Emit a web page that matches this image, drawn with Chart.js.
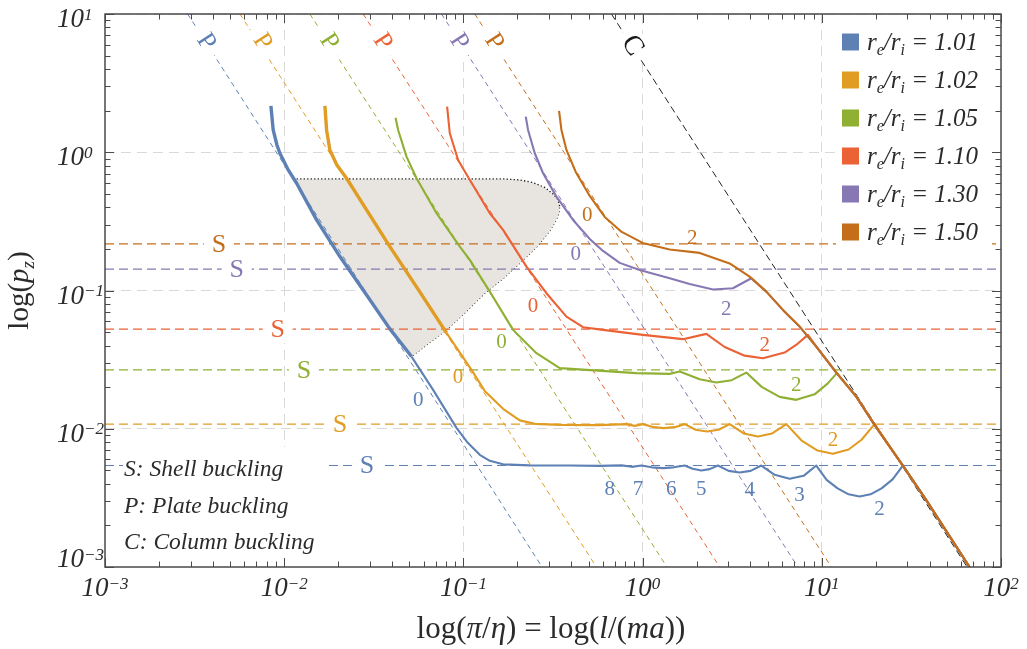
<!DOCTYPE html>
<html>
<head>
<meta charset="utf-8">
<title>Buckling modes map</title>
<script src="https://cdn.jsdelivr.net/npm/chart.js"></script>
<style>
body { margin: 0; background: #ffffff; }
canvas { display: block; }
</style>
</head>
<body>
<canvas id="bucklingChart" width="1027" height="649"></canvas>
<script>
// ---- data (x = pi/eta, y = p_z) ----
const ratioLabels = ['1.01', '1.02', '1.05', '1.10', '1.30', '1.50'];
const seriesColors = ['#5E81B5', '#E19C24', '#8FB032', '#EB6235', '#8778B3', '#C56E1A'];

const curve101 = [
  [8.43e-3, 2.162], [8.68e-3, 1.450], [9.11e-3, 1.129], [9.46e-3, 0.9835], [1.053e-2, 0.7447],
  [1.173e-2, 0.5968], [1.516e-2, 0.3239], [2.045e-2, 0.1759], [2.758e-2, 0.1010], [3.886e-2, 5.276e-2],
  [5.135e-2, 3.327e-2], [6.777e-2, 1.911e-2], [9.15e-2, 1.015e-2], [0.1058, 7.907e-3], [0.1234, 6.476e-3],
  [0.1404, 5.859e-3], [0.1665, 5.528e-3], [0.2346, 5.437e-3], [0.3921, 5.419e-3], [0.5764, 5.391e-3],
  [0.7645, 5.437e-3], [0.8694, 5.303e-3], [0.9847, 5.419e-3], [1.124, 5.259e-3], [1.300, 5.190e-3],
  [1.491, 5.259e-3], [1.717, 5.419e-3], [1.903, 5.130e-3], [2.128, 4.986e-3], [2.367, 5.104e-3],
  [2.633, 5.419e-3], [3.021, 4.961e-3], [3.480, 4.823e-3], [4.007, 4.961e-3], [4.598, 5.419e-3],
  [5.454, 4.640e-3], [6.614, 4.342e-3], [7.915, 4.564e-3], [9.318, 5.419e-3], [10.64, 4.271e-3],
  [12.25, 3.708e-3], [14.11, 3.355e-3], [16.25, 3.234e-3], [18.71, 3.355e-3], [21.55, 3.708e-3],
  [24.83, 4.307e-3], [28.33, 5.419e-3], [38.26, 3.05e-3], [66.73, 1.0e-3]
];
const curve102 = [
  [1.687e-2, 2.162], [1.724e-2, 1.450], [1.798e-2, 1.039], [1.967e-2, 0.8095], [2.228e-2, 0.6487],
  [2.881e-2, 0.3826], [3.886e-2, 0.2077], [5.712e-2, 9.770e-2], [8.049e-2, 4.937e-2], [0.1110, 2.666e-2],
  [0.1315, 1.879e-2], [0.1665, 1.393e-2], [0.2063, 1.150e-2], [0.2502, 1.085e-2], [0.3448, 1.067e-2],
  [0.5764, 1.062e-2], [0.8121, 1.080e-2], [0.9036, 1.049e-2], [1.005, 1.080e-2], [1.153, 1.027e-2],
  [1.311, 1.010e-2], [1.511, 1.027e-2], [1.717, 1.080e-2], [1.977, 9.843e-3], [2.293, 9.544e-3],
  [2.657, 9.843e-3], [3.060, 1.080e-2], [3.663, 9.247e-3], [4.401, 8.782e-3], [5.282, 9.247e-3],
  [6.339, 1.080e-2], [7.714, 8.217e-3], [9.475, 6.958e-3], [11.53, 6.584e-3], [14.11, 7.075e-3],
  [16.67, 8.327e-3], [19.70, 1.080e-2], [28.33, 5.419e-3], [38.26, 3.05e-3], [66.73, 1.0e-3]
];
const curve105 = [
  [4.181e-2, 1.779], [4.323e-2, 1.450], [4.815e-2, 0.9294], [5.476e-2, 0.6487], [7.079e-2, 0.3622],
  [9.548e-2, 0.2077], [0.1086, 0.1665], [0.1404, 9.818e-2], [0.1893, 5.190e-2], [0.2557, 3.521e-2],
  [0.3448, 2.743e-2], [0.4860, 2.666e-2], [0.9235, 2.524e-2], [1.416, 2.494e-2], [1.610, 2.593e-2],
  [2.082, 2.284e-2], [2.579, 2.158e-2], [3.139, 2.246e-2], [3.792, 2.549e-2], [4.616, 2.009e-2],
  [5.815, 1.701e-2], [7.207, 1.618e-2], [9.117, 1.773e-2], [10.77, 2.119e-2], [12.14, 2.524e-2],
  [15.58, 1.709e-2], [19.70, 1.067e-2], [28.33, 5.419e-3], [38.26, 3.05e-3], [66.73, 1.0e-3]
];
const curve110 = [
  [8.111e-2, 2.137], [8.397e-2, 1.372], [9.343e-2, 0.8797], [0.1086, 0.6305], [0.1404, 0.3622],
  [0.1665, 0.2743], [0.2249, 0.1489], [0.2907, 9.560e-2], [0.3758, 6.476e-2], [0.4652, 5.428e-2],
  [0.6013, 5.190e-2], [1.005, 4.775e-2], [1.680, 4.446e-2], [2.269, 4.855e-2], [2.870, 3.903e-2],
  [3.710, 3.378e-2], [4.694, 3.239e-2], [6.200, 3.556e-2], [7.328, 4.117e-2], [8.364, 4.775e-2],
  [9.318, 3.929e-2], [12.05, 2.549e-2], [15.58, 1.709e-2], [19.70, 1.067e-2], [28.33, 5.419e-3],
  [38.26, 3.05e-3], [66.73, 1.0e-3]
];
const curve130 = [
  [0.2228, 1.809], [0.2295, 1.450], [0.2502, 0.9835], [0.2783, 0.7047], [0.3305, 0.4775],
  [0.4091, 0.3239], [0.5069, 0.2361], [0.6013, 0.1933], [0.7451, 0.1584], [0.9634, 0.1409],
  [1.416, 0.1227], [1.831, 0.1116], [2.470, 0.1018], [3.192, 0.1039], [4.044, 0.1227],
  [4.903, 9.818e-2], [6.067, 7.239e-2], [7.518, 5.483e-2], [9.318, 3.929e-2], [12.05, 2.549e-2],
  [15.58, 1.709e-2], [19.70, 1.067e-2], [28.33, 5.419e-3], [38.26, 3.05e-3], [66.73, 1.0e-3]
];
const curve150 = [
  [0.3418, 1.989], [0.3524, 1.450], [0.3758, 1.039], [0.4235, 0.7203], [0.5069, 0.4831],
  [0.6146, 0.3405], [0.7645, 0.2653], [1.001, 0.2209], [1.416, 0.1982], [2.082, 0.1870],
  [3.060, 0.1570], [3.956, 0.1260], [4.903, 9.818e-2], [6.067, 7.239e-2], [7.518, 5.483e-2],
  [9.318, 3.929e-2], [12.05, 2.549e-2], [15.58, 1.709e-2], [19.70, 1.067e-2], [28.33, 5.419e-3],
  [38.26, 3.05e-3], [66.73, 1.0e-3]
];

// shaded zone: upper (dotted) edge and lower edge (blue curve + dotted edge)
const regionTop = [
  [1.173e-2, 0.6412], [0.1702, 0.6412], [0.2063, 0.6305], [0.2438, 0.6048], [0.2844, 0.5566],
  [0.3164, 0.4994], [0.3383, 0.4519], [0.3448, 0.4043]
];
const regionBottom = [
  [1.173e-2, 0.5968], [1.516e-2, 0.3239], [2.045e-2, 0.1759], [2.758e-2, 0.1010], [3.886e-2, 5.276e-2],
  [5.135e-2, 3.327e-2], [6.331e-2, 4.110e-2], [8.049e-2, 5.190e-2], [0.1031, 7.000e-2], [0.1315, 9.560e-2],
  [0.1680, 0.1233], [0.2063, 0.1576], [0.2567, 0.2066], [0.3032, 0.2697], [0.3297, 0.3239],
  [0.3405, 0.3640], [0.3448, 0.4043]
];

// shell (S), plate (P) and column (C) buckling reference lines
const shellLevels = [5.42e-3, 1.079e-2, 2.67e-2, 5.25e-2, 0.1426, 0.2173];
const shellLabelX = [2.893e-2, 2.045e-2, 1.288e-2, 9.189e-3, 5.427e-3, 4.323e-3];
const plateTopX = [2.893e-3, 5.662e-3, 1.391e-2, 2.758e-2, 7.548e-2, 0.1158];
const plateBottomX = [0.2748, 0.5525, 1.368, 2.692, 7.356, 11.30];
const plateLabelX = [3.692e-3, 7.608e-3, 1.798e-2, 3.566e-2, 9.548e-2, 0.1497];
const plateLabelY = 6.35;
const columnLine = [[0.670, 10], [64.7, 1.0e-3]];
const columnLabel = [0.8841, 5.968];

// mode numbers written next to the curves
const modeText = ['0', '0', '0', '0', '0', '0', '8', '7', '6', '5', '4', '3', '2', '2', '2', '2', '2', '2'];
const modeX = [5.590e-2, 9.343e-2, 0.1631, 0.2448, 0.4235, 0.4909, 0.6554, 0.9426, 1.447, 2.128, 3.956, 7.518, 21.01, 11.53, 7.207, 4.797, 2.934, 1.891];
const modeY = [1.618e-2, 2.385e-2, 4.270e-2, 7.738e-2, 0.1861, 0.3549, 3.720e-3, 3.720e-3, 3.720e-3, 3.720e-3, 3.616e-3, 3.327e-3, 2.666e-3, 8.307e-3, 2.077e-2, 4.043e-2, 7.447e-2, 0.2421];
const modeSeries = [0, 1, 2, 3, 4, 5, 0, 0, 0, 0, 0, 0, 0, 1, 2, 3, 4, 5];

const xDecades = [1e-3, 1e-2, 1e-1, 1, 10, 100];
const xExponents = ['\u22123', '\u22122', '\u22121', '0', '1', '2'];
const yDecades = [1e-3, 1e-2, 1e-1, 1, 10];
const yExponents = ['\u22123', '\u22122', '\u22121', '0', '1'];

const noteLines = [['S', ': Shell buckling'], ['P', ': Plate buckling'], ['C', ': Column buckling']];

// ---- build datasets ----
const FONT = '"Liberation Serif", "DejaVu Serif", serif';
const toXY = arr => arr.map(([x, y]) => ({ x, y }));
const curves = [curve101, curve102, curve105, curve110, curve130, curve150];
const thickAbove = [0.034, 0.05, Infinity, Infinity, Infinity, Infinity];

const datasets = [];
datasets.push({
  data: toXY(regionTop), fill: '+1', backgroundColor: '#E8E4DF',
  borderColor: '#1a1a1a', borderWidth: 1.3, borderDash: [1.3, 2.2], order: 30
});
datasets.push({
  data: toXY(regionBottom), fill: false,
  borderColor: '#1a1a1a', borderWidth: 1.3, borderDash: [1.3, 2.2], order: 30
});
shellLevels.forEach((v, i) => {
  datasets.push({
    data: [{ x: 1e-3, y: v }, { x: 100, y: v }],
    borderColor: seriesColors[i], borderWidth: 1.2, borderDash: [9, 5], order: 20
  });
});
plateTopX.forEach((v, i) => {
  datasets.push({
    data: [{ x: v, y: 10 }, { x: plateBottomX[i], y: 1e-3 }],
    borderColor: seriesColors[i], borderWidth: 1, borderDash: [5, 4], order: 20
  });
});
datasets.push({
  data: toXY(columnLine), borderColor: '#222', borderWidth: 1, borderDash: [7, 4], order: 20
});
curves.forEach((c, i) => {
  datasets.push({
    data: toXY(c), borderColor: seriesColors[i], borderWidth: 2.1, order: 6 - i,
    borderJoinStyle: 'round',
    segment: { borderWidth: s => (s.p0.parsed.y > thickAbove[i] ? 3.4 : 2.1) }
  });
});

// ---- text helpers ----
function partFont(style, size) {
  if (style === 'n') return `${size}px ${FONT}`;
  if (style === 'sub' || style === 'sup') return `italic ${Math.round(size * 0.64)}px ${FONT}`;
  return `italic ${size}px ${FONT}`;
}
function drawRich(ctx, parts, x, y, size, align) {
  let w = 0;
  parts.forEach(p => { ctx.font = partFont(p[1], size); w += ctx.measureText(p[0]).width; });
  let cx = align === 'center' ? x - w / 2 : (align === 'right' ? x - w : x);
  ctx.textAlign = 'left';
  ctx.textBaseline = 'alphabetic';
  parts.forEach(p => {
    ctx.font = partFont(p[1], size);
    const dy = p[1] === 'sub' ? size * 0.22 : (p[1] === 'sup' ? -size * 0.27 : 0);
    ctx.fillText(p[0], cx, y + dy);
    cx += ctx.measureText(p[0]).width;
  });
}
function boxedText(ctx, text, px, py, font, color, angle, bw, bh) {
  ctx.save();
  ctx.translate(px, py);
  if (angle) ctx.rotate(angle);
  if (bw) { ctx.fillStyle = '#ffffff'; ctx.fillRect(-bw / 2, -bh / 2, bw, bh); }
  ctx.font = font;
  ctx.fillStyle = color;
  ctx.textAlign = 'center';
  ctx.textBaseline = 'middle';
  ctx.fillText(text, 0, 1);
  ctx.restore();
}

const decorPlugin = {
  id: 'decor',
  afterDatasetsDraw(chart) {
    const { ctx, scales: { x, y }, chartArea: a } = chart;
    ctx.save();
    // S labels on the shell lines
    shellLevels.forEach((v, i) => {
      boxedText(ctx, 'S', x.getPixelForValue(shellLabelX[i]), y.getPixelForValue(v),
        `26px ${FONT}`, seriesColors[i], 0, 30, 28);
    });
    // P labels along the plate lines
    const ang = Math.atan2(y.getPixelForValue(1e-3) - y.getPixelForValue(10),
      x.getPixelForValue(plateBottomX[0]) - x.getPixelForValue(plateTopX[0]));
    plateLabelX.forEach((v, i) => {
      boxedText(ctx, 'P', x.getPixelForValue(v), y.getPixelForValue(plateLabelY),
        `26px ${FONT}`, seriesColors[i], ang, 32, 26);
    });
    boxedText(ctx, 'C', x.getPixelForValue(columnLabel[0]), y.getPixelForValue(columnLabel[1]),
      `28px ${FONT}`, '#1a1a1a', ang, 32, 28);
    // mode numbers
    modeText.forEach((t, i) => {
      boxedText(ctx, t, x.getPixelForValue(modeX[i]), y.getPixelForValue(modeY[i]),
        `21px ${FONT}`, seriesColors[modeSeries[i]], 0, 0, 0);
    });
    // note box, lower left
    ctx.fillStyle = '#ffffff';
    ctx.fillRect(a.left + 18, 447, 202, a.bottom - 448);
    ctx.fillStyle = '#2b2b2b';
    noteLines.forEach((l, i) => {
      drawRich(ctx, [[l[0], 'i'], [l[1], 'i']], a.left + 19, 476 + i * 36.5, 23.5, 'left');
    });
    // legend
    const lx = 842, ly0 = 42, step = 38;
    ctx.fillStyle = '#ffffff';
    ctx.fillRect(lx - 6, ly0 - 22, 156, step * 6 + 4);
    ratioLabels.forEach((r, i) => {
      const cy = ly0 + i * step;
      ctx.fillStyle = seriesColors[i];
      ctx.fillRect(lx, cy - 8.5, 17, 17);
      ctx.fillStyle = '#2b2b2b';
      drawRich(ctx, [['r', 'i'], ['e', 'sub'], ['/', 'i'], ['r', 'i'], ['i', 'sub'], [' = ' + r, 'i']],
        lx + 25, cy + 7.5, 25, 'left');
    });
    ctx.restore();
  },
  afterDraw(chart) {
    const { ctx, scales: { x, y }, chartArea: a } = chart;
    ctx.save();
    // frame
    ctx.strokeStyle = '#4a4a4a';
    ctx.lineWidth = 1.5;
    ctx.strokeRect(a.left, a.top, a.right - a.left, a.bottom - a.top);
    // inward ticks on all four sides
    ctx.lineWidth = 1;
    ctx.beginPath();
    xDecades.forEach((d, k) => {
      for (let m = 1; m <= 9; m++) {
        if (k === xDecades.length - 1 && m > 1) break;
        const px = Math.round(x.getPixelForValue(d * m)) + 0.5;
        const len = m === 1 ? 9 : 5.5;
        ctx.moveTo(px, a.bottom); ctx.lineTo(px, a.bottom - len);
        ctx.moveTo(px, a.top); ctx.lineTo(px, a.top + len);
      }
    });
    yDecades.forEach((d, k) => {
      for (let m = 1; m <= 9; m++) {
        if (k === yDecades.length - 1 && m > 1) break;
        const py = Math.round(y.getPixelForValue(d * m)) + 0.5;
        const len = m === 1 ? 9 : 5.5;
        ctx.moveTo(a.left, py); ctx.lineTo(a.left + len, py);
        ctx.moveTo(a.right, py); ctx.lineTo(a.right - len, py);
      }
    });
    ctx.stroke();
    // tick labels
    ctx.fillStyle = '#2b2b2b';
    xDecades.forEach((d, i) => {
      drawRich(ctx, [['10', 'i'], [xExponents[i], 'sup']], x.getPixelForValue(d), a.bottom + 29, 27, 'center');
    });
    yDecades.forEach((d, i) => {
      const py = Math.min(y.getPixelForValue(d) + 13, a.bottom);
      drawRich(ctx, [['10', 'i'], [yExponents[i], 'sup']], 57, py, 27, 'left');
    });
    // axis titles
    drawRich(ctx, [['log(', 'n'], ['\u03c0', 'i'], ['/', 'n'], ['\u03b7', 'i'], [') = log(', 'n'],
      ['l', 'i'], ['/(', 'n'], ['ma', 'i'], ['))', 'n']], (a.left + a.right) / 2 - 2, 638, 31, 'center');
    ctx.save();
    ctx.translate(28, (a.top + a.bottom) / 2);
    ctx.rotate(-Math.PI / 2);
    drawRich(ctx, [['log(', 'n'], ['p', 'i'], ['z', 'sub'], [')', 'n']], 0, 0, 29, 'center');
    ctx.restore();
    ctx.restore();
  }
};

const gridColor = c => (c.tick && c.tick.value > 1.5e-3 && c.tick.value < 50) ? '#d9d9d9' : 'rgba(0,0,0,0)';

new Chart(document.getElementById('bucklingChart'), {
  type: 'line',
  data: { datasets },
  options: {
    responsive: false,
    animation: false,
    devicePixelRatio: 1,
    layout: { padding: { top: 14, right: 26, left: 0, bottom: 0 } },
    elements: { point: { radius: 0, hoverRadius: 0 }, line: { tension: 0 } },
    plugins: { legend: { display: false }, tooltip: { enabled: false } },
    events: [],
    scales: {
      x: {
        type: 'logarithmic', position: 'bottom', min: 1e-3, max: 100,
        afterBuildTicks: s => { s.ticks = xDecades.map(v => ({ value: v })); },
        afterFit: s => { s.height = 82; s.paddingLeft = 0; s.paddingRight = 0; },
        ticks: { display: false },
        grid: { color: gridColor, lineWidth: 1, drawTicks: false },
        border: { display: false, dash: [10, 6] }
      },
      y: {
        type: 'logarithmic', position: 'left', min: 1e-3, max: 10,
        afterBuildTicks: s => { s.ticks = yDecades.map(v => ({ value: v })); },
        afterFit: s => { s.width = 105; s.paddingTop = 0; s.paddingBottom = 0; },
        ticks: { display: false },
        grid: { color: gridColor, lineWidth: 1, drawTicks: false },
        border: { display: false, dash: [10, 6] }
      }
    }
  },
  plugins: [decorPlugin]
});
</script>
</body>
</html>
